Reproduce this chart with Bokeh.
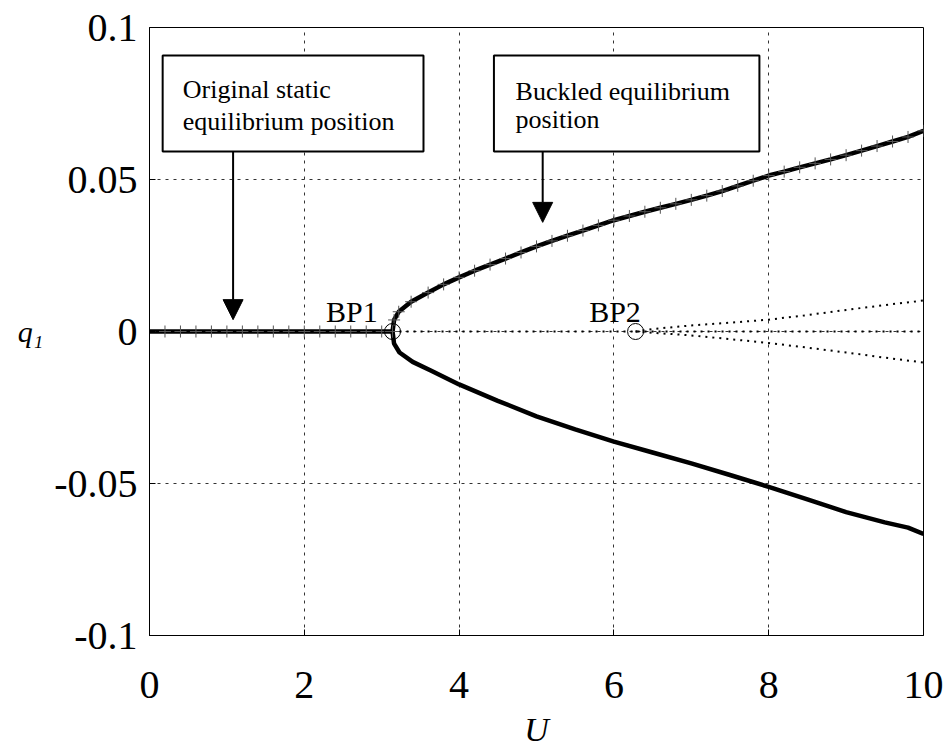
from bokeh.plotting import figure
from bokeh.models import Range1d, FixedTicker, BoxAnnotation, Label, Arrow, NormalHead
from bokeh.embed import file_html
from bokeh.resources import INLINE

# ---------------- data ----------------
# trivial (original) equilibrium, stable part 0..BP1
triv_u = [0.0, 0.2, 0.4, 0.6, 0.8, 1.0, 1.2, 1.4, 1.6, 1.8, 2.0, 2.2, 2.4, 2.6, 2.8, 3.0, 3.14]
triv_q = [0.0, 0.0, 0.0, 0.0, 0.0, 0.0, 0.0, 0.0, 0.0, 0.0, 0.0, 0.0, 0.0, 0.0, 0.0, 0.0, 0.0]

# trivial equilibrium, unstable part BP1..10
triv_unst_u = [3.14, 10.0]
triv_unst_q = [0.0, 0.0]

# buckled equilibrium, upper branch (with markers)
up_u = [3.14, 3.16, 3.22, 3.38, 3.60, 3.80, 4.00, 4.20, 4.40, 4.60, 4.80, 5.00, 5.20,
        5.40, 5.60, 5.80, 6.00, 6.20, 6.40, 6.60, 6.80, 7.00, 7.20, 7.40, 7.60, 7.80,
        8.00, 8.20, 8.40, 8.60, 8.80, 9.00, 9.20, 9.40, 9.60, 9.80, 10.0]
up_q = [0.0, 0.0038, 0.0065, 0.0098, 0.0128, 0.0155, 0.0178, 0.0200, 0.0220, 0.0240,
        0.0260, 0.0280, 0.0298, 0.0315, 0.0332, 0.0349, 0.0366, 0.0380, 0.0394, 0.0407,
        0.0420, 0.0433, 0.0447, 0.0462, 0.0479, 0.0496, 0.0513, 0.0526, 0.0540, 0.0553,
        0.0566, 0.0580, 0.0595, 0.0610, 0.0625, 0.0640, 0.0660]

# buckled equilibrium, lower branch
lo_u = [3.14, 3.16, 3.23, 3.40, 3.64, 4.0, 4.5, 5.0, 5.5, 6.0, 6.5, 7.0, 7.5, 8.0,
        8.5, 9.0, 9.5, 9.8, 10.0]
lo_q = [0.0, -0.0040, -0.0069, -0.0100, -0.0129, -0.0174, -0.0228, -0.0279, -0.0322,
        -0.0362, -0.0398, -0.0434, -0.0472, -0.0511, -0.0552, -0.0594, -0.0628,
        -0.0645, -0.0666]

# secondary (unstable) branches from BP2
sec_up_u = [6.28, 6.5, 7.0, 7.5, 8.0, 8.5, 9.0, 9.5, 10.0]
sec_up_q = [0.0, 0.0008, 0.0020, 0.0029, 0.0039, 0.0054, 0.0071, 0.0087, 0.0102]
sec_lo_u = [6.28, 6.5, 7.0, 7.5, 8.0, 8.5, 9.0, 9.5, 10.0]
sec_lo_q = [0.0, -0.0004, -0.0013, -0.0025, -0.0038, -0.0053, -0.0069, -0.0086, -0.0102]

# bifurcation points
bp_u = [3.14, 6.28]
bp_q = [0.0, 0.0]
bp_names = ["BP1", "BP2"]

x_ticks = [0, 2, 4, 6, 8, 10]
y_ticks = [-0.1, -0.05, 0.0, 0.05, 0.1]
y_tick_labels = ["-0.1", "-0.05", "0", "0.05", "0.1"]

FONT = "'Liberation Serif', 'Times New Roman', Times, serif"

p = figure(width=950, height=750, output_backend="svg", toolbar_location=None,
           x_range=Range1d(0, 10), y_range=Range1d(-0.1, 0.1),
           min_border_left=149, min_border_right=27, min_border_top=27,
           min_border_bottom=114)
p.background_fill_color = "white"
p.border_fill_color = "white"
p.outline_line_color = "black"
p.outline_line_width = 1

# axes
p.xaxis.ticker = FixedTicker(ticks=x_ticks)
p.yaxis.ticker = FixedTicker(ticks=y_ticks)
p.yaxis.major_label_overrides = {t: s for t, s in zip(y_ticks, y_tick_labels)}
for ax in (p.xaxis, p.yaxis):
    ax.axis_line_color = "black"
    ax.major_tick_in = 6
    ax.major_tick_out = 0
    ax.minor_tick_in = 0
    ax.minor_tick_out = 0
    ax.major_tick_line_color = "black"
    ax.major_label_text_font = FONT
    ax.major_label_text_font_size = "40px"
    ax.major_label_text_color = "black"
    ax.axis_label_text_font = FONT
    ax.axis_label_text_font_style = "italic"
    ax.axis_label_text_color = "black"
p.xaxis.major_label_standoff = 36
p.xaxis.axis_label = "U"
p.xaxis.axis_label_text_font_size = "34px"
p.xaxis.axis_label_standoff = 10
p.yaxis.major_label_standoff = 12
p.yaxis.axis_label = "q\u2081"
p.yaxis.axis_label_text_font_size = "30px"
p.yaxis.axis_label_orientation = "horizontal"
p.yaxis.axis_label_standoff = 8

# grid
for g in (p.xgrid, p.ygrid):
    g.grid_line_color = "#333333"
    g.grid_line_dash = "3 5"
    g.grid_line_width = 1
p.xgrid.ticker = FixedTicker(ticks=x_ticks)
p.ygrid.ticker = FixedTicker(ticks=y_ticks)

# curves
p.line(triv_unst_u, triv_unst_q, line_color="black", line_width=2, line_dash="2 5")
p.line(sec_up_u, sec_up_q, line_color="black", line_width=2, line_dash="2 5")
p.line(sec_lo_u, sec_lo_q, line_color="black", line_width=2, line_dash="2 5")
p.line(triv_u, triv_q, line_color="black", line_width=4.5)
p.line(up_u, up_q, line_color="black", line_width=4.5)
p.line(lo_u, lo_q, line_color="black", line_width=4.5)
p.scatter(triv_u, triv_q, marker="cross", size=12, line_color="#555555", line_width=1)
p.scatter(up_u, up_q, marker="cross", size=12, line_color="#555555", line_width=1)
p.scatter(bp_u, bp_q, marker="circle", size=16, fill_color=None, line_color="black", line_width=1)

# BP labels
p.add_layout(Label(x=2.28, y=0.0066, text=bp_names[0], text_font=FONT, text_font_size="30px",
                   text_baseline="alphabetic", text_color="black"))
p.add_layout(Label(x=5.68, y=0.0066, text=bp_names[1], text_font=FONT, text_font_size="30px",
                   text_baseline="alphabetic", text_color="black"))

# annotation boxes
p.add_layout(BoxAnnotation(left=0.17, right=3.54, top=0.0908, bottom=0.0592,
                           fill_color="white", fill_alpha=1.0, line_color="black",
                           line_width=2, line_alpha=1.0))
p.add_layout(BoxAnnotation(left=4.45, right=7.88, top=0.0908, bottom=0.0592,
                           fill_color="white", fill_alpha=1.0, line_color="black",
                           line_width=2, line_alpha=1.0))
for x, y, t in [(0.43, 0.0796, "Original static"), (0.43, 0.0691, "equilibrium position"),
                (4.73, 0.0789, "Buckled equilibrium"), (4.73, 0.0697, "position")]:
    p.add_layout(Label(x=x, y=y, text=t, text_font=FONT, text_font_size="26px",
                       text_baseline="alphabetic", text_color="black"))

# arrows
p.add_layout(Arrow(end=NormalHead(size=20, fill_color="black", line_color="black"),
                   x_start=1.08, y_start=0.0592, x_end=1.08, y_end=0.0039,
                   line_color="black", line_width=2))
p.add_layout(Arrow(end=NormalHead(size=20, fill_color="black", line_color="black"),
                   x_start=5.08, y_start=0.0592, x_end=5.08, y_end=0.0359,
                   line_color="black", line_width=2))

open("out.html", "w").write(file_html(p, INLINE))
